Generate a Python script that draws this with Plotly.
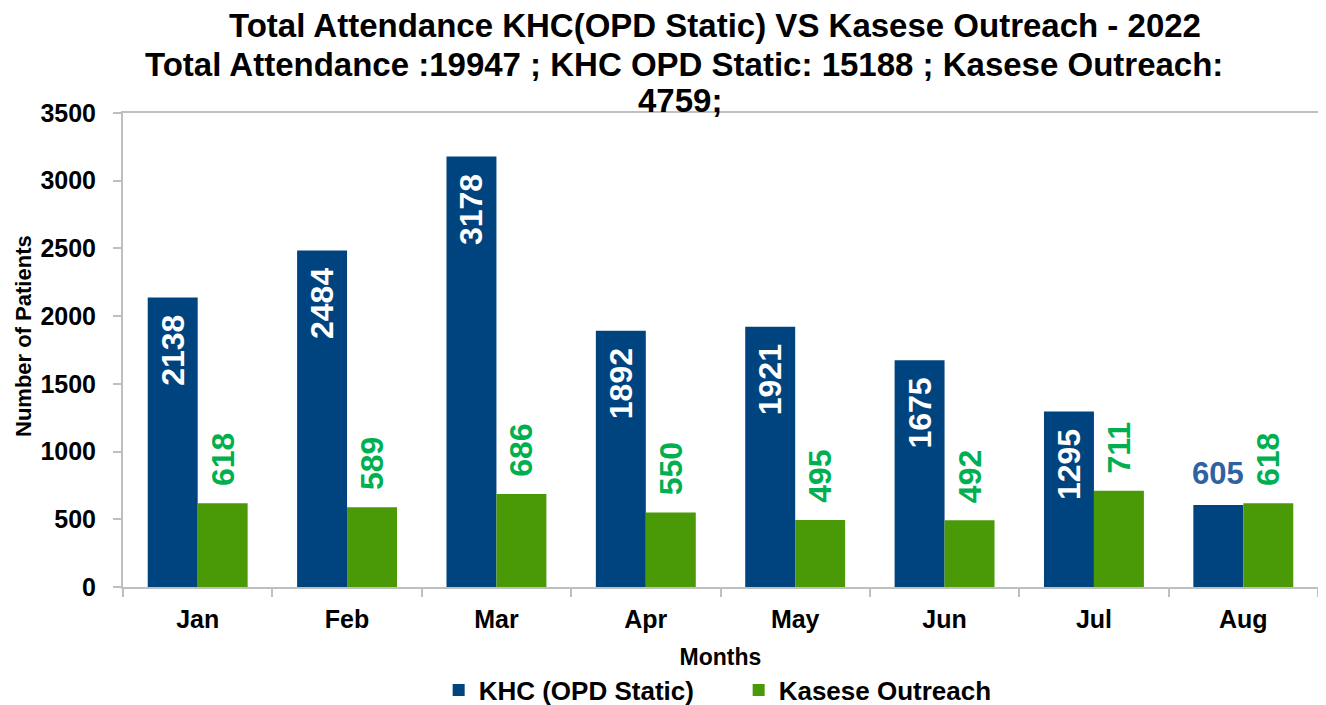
import plotly.graph_objects as go

months = ['Jan', 'Feb', 'Mar', 'Apr', 'May', 'Jun', 'Jul', 'Aug']
khc_static = [2138, 2484, 3178, 1892, 1921, 1675, 1295, 605]
kasese_outreach = [618, 589, 686, 550, 495, 492, 711, 618]
y_ticks = [0, 500, 1000, 1500, 2000, 2500, 3000, 3500]

title_lines = [
    'Total Attendance KHC(OPD Static) VS Kasese Outreach - 2022',
    'Total Attendance :19947 ; KHC OPD Static: 15188 ; Kasese Outreach:',
    '4759;',
]

BLUE = '#00447F'
GREEN = '#4A9A08'
LABEL_GREEN = '#00B050'
LABEL_BLUE = '#2E62A0'
GRID = '#BFBFBF'
FONT = 'Liberation Sans, Arial, sans-serif'

# page body has an 8px margin, so the figure is drawn a bit smaller
OFF = 8
W, H = 1326, 705
# plot area in page pixels (from the reference)
L, R, T, B = 123, 1318, 113, 587
PW, PH = R - L, B - T

def px_x(x):
    return (x - L) / PW

def px_y(y):
    return (B - y) / PH

PAD = '\u00a0\u2006'  # small spacing between label and bar end

# blue labels sit inside the bar, except the last (short) one, drawn as annotation
khc_text = [str(v) + PAD for v in khc_static[:-1]] + ['']
out_text = [PAD + str(v) for v in kasese_outreach]

fig = go.Figure()
fig.add_trace(go.Bar(
    x=months, y=khc_static, name='KHC (OPD Static)',
    marker=dict(color=BLUE, line=dict(width=0)),
    text=khc_text, textposition='inside', insidetextanchor='end',
    textangle=-90, constraintext='none',
    textfont=dict(family=FONT, size=32, color='white', weight='bold'),
))
fig.add_trace(go.Bar(
    x=months, y=kasese_outreach, name='Kasese Outreach',
    marker=dict(color=GREEN, line=dict(width=0)),
    text=out_text, textposition='outside',
    textangle=-90, constraintext='none',
    textfont=dict(family=FONT, size=32, color=LABEL_GREEN, weight='bold'),
    cliponaxis=False,
))

fig.add_annotation(
    x=months[-1], y=khc_static[-1], text='<b>%d</b>' % khc_static[-1],
    xshift=-25, yanchor='bottom', yshift=12, showarrow=False,
    font=dict(family=FONT, size=31, color=LABEL_BLUE),
)

# title lines, each centred on its own position as in the reference
for line, cx, cy in zip(title_lines, [715, 684, 680], [26, 64, 100]):
    fig.add_annotation(
        xref='paper', yref='paper', x=px_x(cx), y=px_y(cy),
        xanchor='center', yanchor='middle', showarrow=False,
        text='<b>%s</b>' % line,
        font=dict(family=FONT, size=33, color='black'),
    )

# y axis title, placed as in the reference (slightly above the plot centre)
fig.add_annotation(
    xref='paper', yref='paper', x=px_x(23), y=px_y(336),
    xanchor='center', yanchor='middle', showarrow=False, textangle=-90,
    text='<b>Number of Patients</b>',
    font=dict(family=FONT, size=22, color='black'),
)

fig.update_layout(
    width=W - OFF, height=H - OFF,
    paper_bgcolor='white', plot_bgcolor='white',
    font=dict(family=FONT, color='black'),
    barmode='group', bargap=0.331, bargroupgap=0,
    margin=dict(l=L - OFF, r=W - R, t=T - OFF, b=H - B, autoexpand=False),
    showlegend=True,
    legend=dict(
        orientation='h', x=px_x(453) - 0.012, xanchor='left', y=px_y(690), yanchor='middle',
        font=dict(family=FONT, size=26, color='black', weight='bold'),
        itemwidth=30, entrywidth=255,
    ),
)

fig.update_xaxes(
    title=dict(text='Months', font=dict(family=FONT, size=23, weight='bold'), standoff=17),
    tickfont=dict(family=FONT, size=25, weight='bold'),
    ticklabelstandoff=9,
    showline=True, linecolor=GRID, linewidth=2, mirror=True,
    ticks='outside', tickson='boundaries', tickcolor=GRID, ticklen=8, tickwidth=2,
    showgrid=False, automargin=False,
)
fig.update_yaxes(
    range=[0, 3500], tickvals=y_ticks,
    tickfont=dict(family=FONT, size=25, weight='bold'),
    ticklabelstandoff=12,
    showline=True, linecolor=GRID, linewidth=2, mirror=True,
    ticks='outside', tickcolor=GRID, ticklen=8, tickwidth=2,
    showgrid=False, zeroline=False, automargin=False,
)

fig.write_html('out.html')
